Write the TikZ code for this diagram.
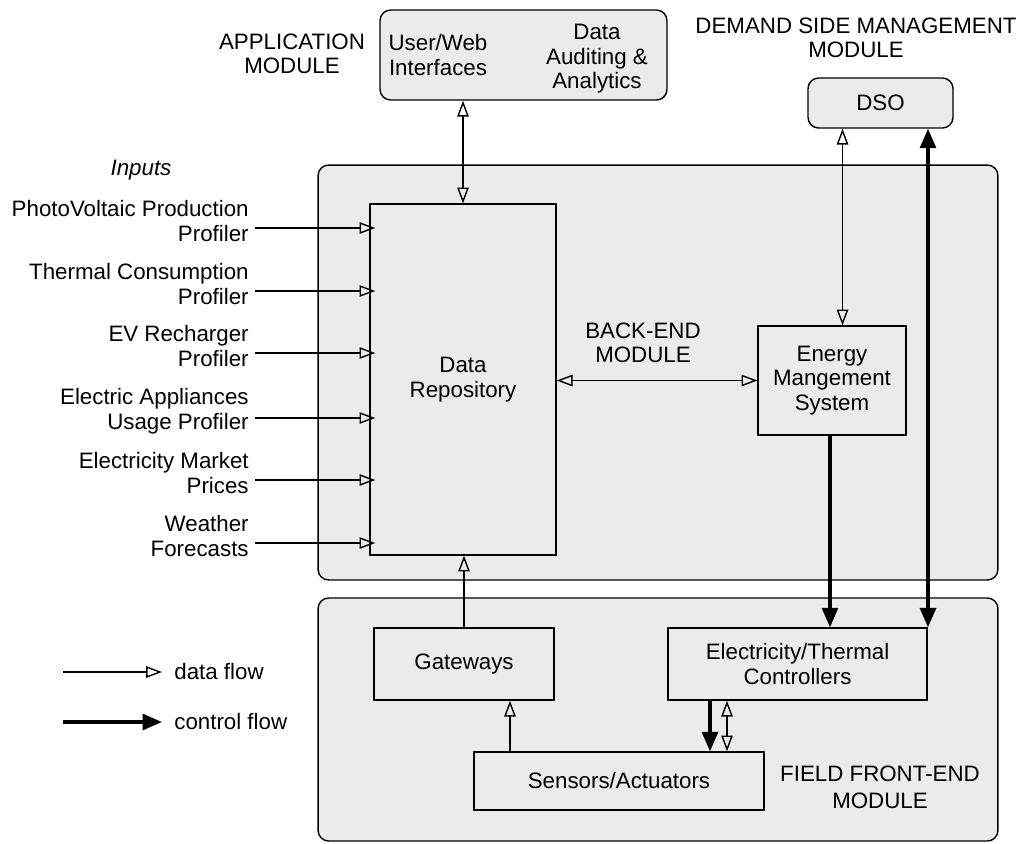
\documentclass[tikz,border=0pt]{standalone}
\usepackage{fontspec}
\setmainfont{Liberation Sans}
\usetikzlibrary{arrows.meta,positioning}
\definecolor{modgray}{RGB}{235,235,235}
\tikzset{
  module/.style={draw, rounded corners=6pt, fill=modgray, line width=0.8pt},
  block/.style={draw, rectangle, fill=modgray, line width=0.8pt, align=center},
  lbl/.style={align=center, inner sep=0pt},
  dataflow/.style={line width=0.8pt, -{Triangle[open, length=9pt, width=6.5pt]}},
  databoth/.style={line width=0.8pt, {Triangle[open, length=9pt, width=6.5pt]}-{Triangle[open, length=9pt, width=6.5pt]}},
  ctrlflow/.style={line width=1.8pt, -{Triangle[length=11pt, width=9pt]}},
  ctrlboth/.style={line width=1.8pt, {Triangle[length=11pt, width=9pt]}-{Triangle[length=11pt, width=9pt]}}
}
\begin{document}
\begin{tikzpicture}[x=0.02cm, y=-0.02cm, font=\fontsize{12.7}{14}\selectfont]
  \useasboundingbox (0,0) rectangle (1017,843);
  % modules
  \node[module, minimum width=13.6cm, minimum height=8.3cm] (backend) at (658,372.5) {};
  \node[module, minimum width=13.6cm, minimum height=4.86cm] (field) at (658,719.5) {};
  \node[module, minimum width=5.74cm, minimum height=1.8cm] (app) at (523.5,55) {};
  \node[module, minimum width=2.9cm, minimum height=1cm] (dso) at (880.5,103) {DSO};
  \node[lbl] (weblbl) at (438,55) {User/Web\\Interfaces};
  \node[lbl] (auditlbl) at (597,59) {Data\\Auditing \&\\Analytics};
  % blocks
  \node[block, minimum width=3.72cm, minimum height=7.02cm] (repo) at (463,379.5) {Data\\Repository};
  \node[block, minimum width=2.96cm, minimum height=2.18cm] (ems) at (832,380.5) {Energy\\Mangement\\System};
  \node[block, minimum width=3.6cm, minimum height=1.44cm] (gw) at (464,664) {Gateways};
  \node[block, minimum width=5.18cm, minimum height=1.44cm] (ctrl) at (797.5,664) {Electricity/Thermal\\Controllers};
  \node[block, minimum width=5.8cm, minimum height=1.16cm] (sens) at (619,781) {Sensors/Actuators};
  % module titles
  \node[lbl] (applbl) at (292,54) {APPLICATION\\MODULE};
  \node[lbl] (dsmlbl) at (856,38) {DEMAND SIDE MANAGEMENT\\MODULE};
  \node[lbl] (belbl) at (643,343) {BACK-END\\MODULE};
  \node[lbl, font=\fontsize{12.7}{15.5}\selectfont] (felbl) at (880,787) {FIELD FRONT-END\\MODULE};
  \node[lbl, font=\fontsize{12.7}{14}\selectfont\itshape] (inputs) at (141,170) {Inputs};
  % inputs
  \foreach \txt/\yy [count=\i] in {{PhotoVoltaic Production\\Profiler}/221,
      {Thermal Consumption\\Profiler}/284, {EV Recharger\\Profiler}/346,
      {Electric Appliances\\Usage Profiler}/411, {Electricity Market\\Prices}/473,
      {Weather\\Forecasts}/536}{
    \node[lbl, align=right, anchor=east] (in\i) at (249,\yy) {\txt};
    \draw[dataflow] ([shift={(6,7)}]in\i.east) -- ([shift={(6,7)}]in\i.east -| repo.west);
  }
  % data flows
  \draw[databoth] (app.south -| repo.north) -- (repo.north);
  \draw[databoth] ([xshift=-38*0.02cm]dso.south) -- ([xshift=-38*0.02cm]dso.south |- ems.north);
  \draw[databoth] (repo.east |- ems.west) -- (ems.west);
  \draw[dataflow] (gw.north) -- (gw.north |- repo.south);
  \draw[dataflow] ([xshift=-109*0.02cm]sens.north) -- ([xshift=-109*0.02cm]sens.north |- gw.south);
  \draw[databoth] ([xshift=108*0.02cm]sens.north) -- ([xshift=108*0.02cm]sens.north |- ctrl.south);
  % control flows
  \draw[ctrlboth] ([xshift=47.5*0.02cm]dso.south) -- ([xshift=47.5*0.02cm]dso.south |- ctrl.north);
  \draw[ctrlflow] ([xshift=-2*0.02cm]ems.south) -- ([xshift=-2*0.02cm]ems.south |- ctrl.north);
  \draw[ctrlflow] ([xshift=91*0.02cm]sens.north |- ctrl.south) -- ([xshift=91*0.02cm]sens.north);
  % legend
  \node[lbl, anchor=west] (lgdata) at (174,672) {data flow};
  \node[lbl, anchor=west] (lgctrl) at (174,722) {control flow};
  \coordinate (lgdstart) at (63,672);
  \coordinate (lgcstart) at (63,722);
  \draw[dataflow] (lgdstart) -- ([xshift=-12*0.02cm]lgdata.west);
  \draw[ctrlflow] (lgcstart) -- ([xshift=-12*0.02cm]lgctrl.west);
\end{tikzpicture}
\end{document}
